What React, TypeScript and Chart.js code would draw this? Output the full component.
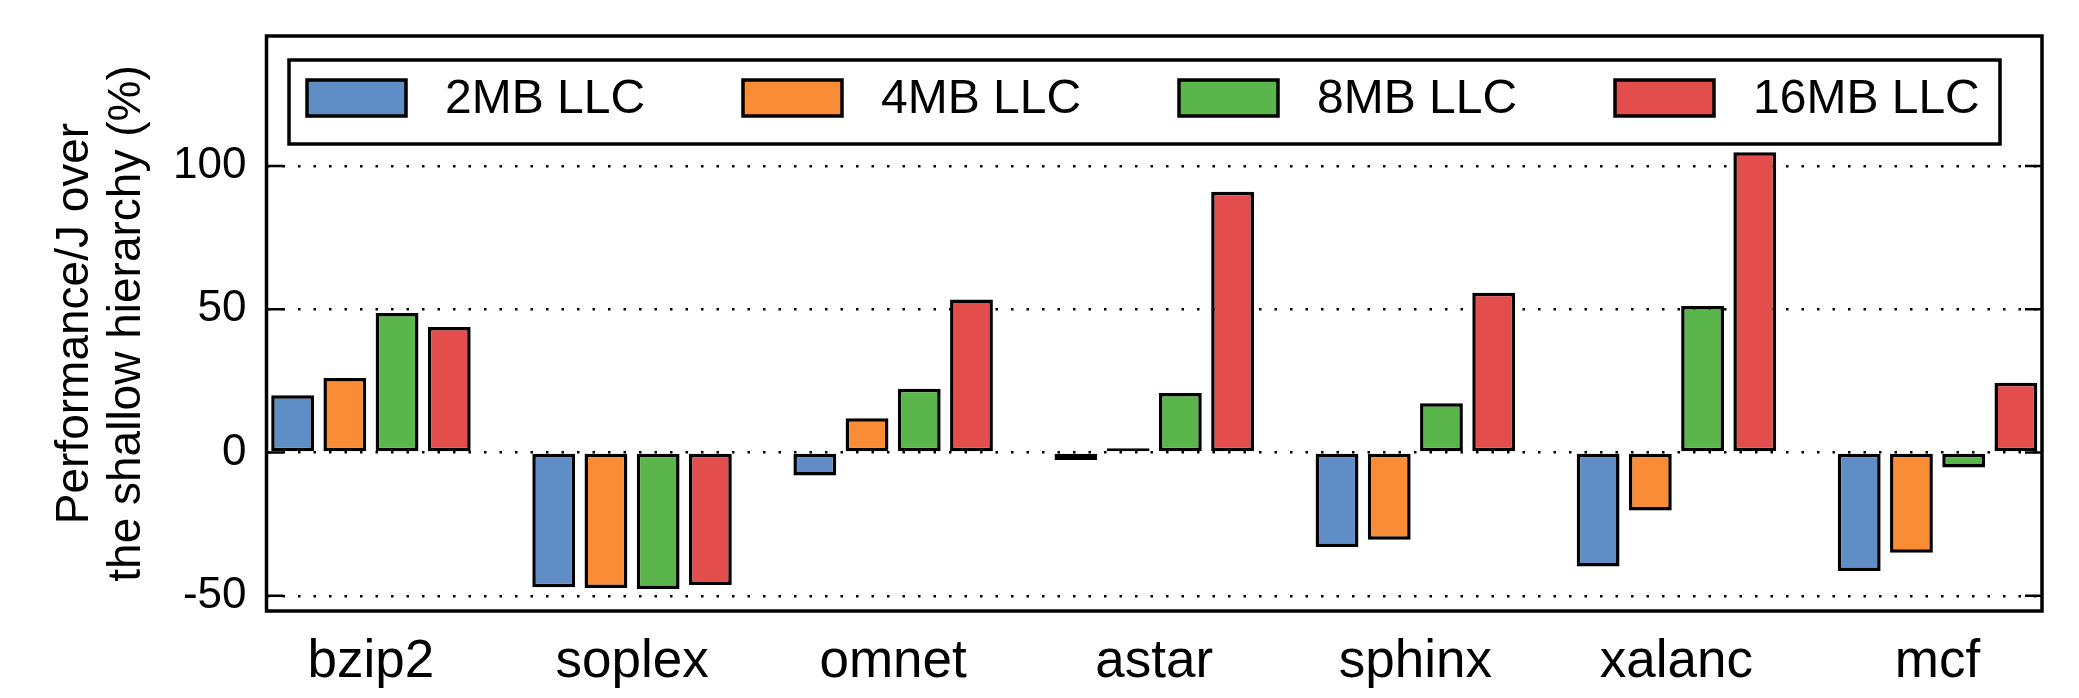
import React, { useEffect, useRef } from 'react';
import { Chart, registerables } from 'chart.js';

Chart.register(...registerables);

const categories = ['bzip2', 'soplex', 'omnet', 'astar', 'sphinx', 'xalanc', 'mcf'];
const seriesLabels = ['2MB LLC', '4MB LLC', '8MB LLC', '16MB LLC'];
const llc2MB = [20, -47, -8, -2.6, -33, -39.8, -41.3];
const llc4MB = [26, -47.3, 12, 1.5, -30.4, -20.2, -35];
const llc8MB = [48.7, -47.6, 22.3, 20.8, 17.2, 51.2, -5.2];
const llc16MB = [43.8, -46.2, 53.4, 91, 55.8, 104.8, 24.4];
const yTicks = [-50, 0, 50, 100];
const seriesColors = ['#5F8DC5', '#FA8C36', '#5AB64A', '#E34E4C'];
const yTitle = ['Performance/J over', 'the shallow hierarchy (%)'];
const xRange = [-0.4, 6.4];
const yRange = [-55.3, 145.4];

const FONT = '"Liberation Sans", Arial, Helvetica, sans-serif';

const frameLegendPlugin = {
  id: 'frameLegend',
  afterDraw(chart: any) {
    const { ctx, chartArea: a } = chart;
    const yScale = chart.scales.y;
    ctx.save();
    ctx.strokeStyle = '#000';
    ctx.lineWidth = 2.5;
    yTicks.forEach((v) => {
      const py = yScale.getPixelForValue(v);
      ctx.beginPath();
      ctx.moveTo(a.left, py);
      ctx.lineTo(a.left + 17, py);
      ctx.moveTo(a.right - 17, py);
      ctx.lineTo(a.right, py);
      ctx.stroke();
    });
    ctx.lineWidth = 3.5;
    ctx.strokeRect(a.left, a.top, a.right - a.left, a.bottom - a.top);

    // legend box
    const bx = a.left + 22.5;
    const by = a.top + 24;
    const bw = a.right - 42 - bx;
    const bh = 84;
    ctx.fillStyle = '#fff';
    ctx.fillRect(bx, by, bw, bh);
    ctx.lineWidth = 3.5;
    ctx.strokeRect(bx, by, bw, bh);
    ctx.font = `48px ${FONT}`;
    ctx.textBaseline = 'middle';
    ctx.textAlign = 'left';
    chart.data.datasets.forEach((ds: any, i: number) => {
      const sx = bx + 18 + i * 436;
      const sy = by + 38;
      ctx.fillStyle = ds.backgroundColor;
      ctx.fillRect(sx, sy - 18, 99, 36);
      ctx.lineWidth = 3.5;
      ctx.strokeRect(sx, sy - 18, 99, 36);
      ctx.fillStyle = '#000';
      ctx.fillText(ds.label, sx + 138, sy + 2);
    });
    ctx.restore();
  },
};

export default function App() {
  const ref = useRef<HTMLCanvasElement>(null);

  useEffect(() => {
    if (!ref.current) return;
    const series = [llc2MB, llc4MB, llc8MB, llc16MB];
    const chart = new Chart(ref.current, {
      type: 'bar',
      data: {
        datasets: series.map((vals, i) => ({
          label: seriesLabels[i],
          data: vals.map((v, j) => ({ x: j, y: v })),
          backgroundColor: seriesColors[i],
          borderColor: '#000',
          borderWidth: 3.5,
          borderSkipped: false,
          categoryPercentage: 0.8,
          barPercentage: 0.82,
        })),
      },
      options: {
        responsive: false,
        animation: false,
        devicePixelRatio: 1,
        layout: { padding: { left: 0, right: 37, top: 36, bottom: 0 } },
        plugins: { legend: { display: false }, tooltip: { enabled: false } },
        scales: {
          x: {
            type: 'linear',
            offset: false,
            bounds: 'data',
            min: xRange[0],
            max: xRange[1],
            grid: { display: false, offset: false },
            border: { display: false },
            afterDataLimits: (s: any) => {
              s.min = xRange[0];
              s.max = xRange[1];
            },
            afterBuildTicks: (s: any) => {
              s.ticks = categories.map((_, i) => ({ value: i }));
            },
            ticks: {
              autoSkip: false,
              maxRotation: 0,
              padding: 12,
              color: '#000',
              font: { family: FONT, size: 53 },
              callback: (v: any) => categories[Math.round(Number(v))] ?? '',
            },
            afterFit: (s: any) => {
              s.height = 87;
              s.paddingLeft = 0;
              s.paddingRight = 0;
            },
          },
          y: {
            bounds: 'data',
            min: yRange[0],
            max: yRange[1],
            z: 1,
            afterBuildTicks: (s: any) => {
              s.ticks = yTicks.map((v) => ({ value: v }));
            },
            border: { display: false, dash: [2.5, 13] },
            grid: {
              color: '#000',
              lineWidth: 2.5,
              drawTicks: false,
              borderDash: [2.5, 13],
            } as any,
            ticks: {
              padding: 20,
              color: '#000',
              font: { family: FONT, size: 44 },
              callback: (v: any) => String(v),
            },
            title: {
              display: true,
              text: yTitle,
              color: '#000',
              font: { family: FONT, size: 46, lineHeight: 1.12 },
              padding: { top: 50, bottom: 0 },
            },
            afterFit: (s: any) => {
              s.width = 266.5;
              s.paddingTop = 0;
              s.paddingBottom = 0;
            },
          },
        },
      } as any,
      plugins: [frameLegendPlugin],
    });
    return () => chart.destroy();
  }, []);

  return (
    <div style={{ position: 'fixed', left: 0, top: 0, width: 2079, height: 698, background: '#fff' }}>
      <canvas ref={ref} width={2079} height={698} />
    </div>
  );
}
